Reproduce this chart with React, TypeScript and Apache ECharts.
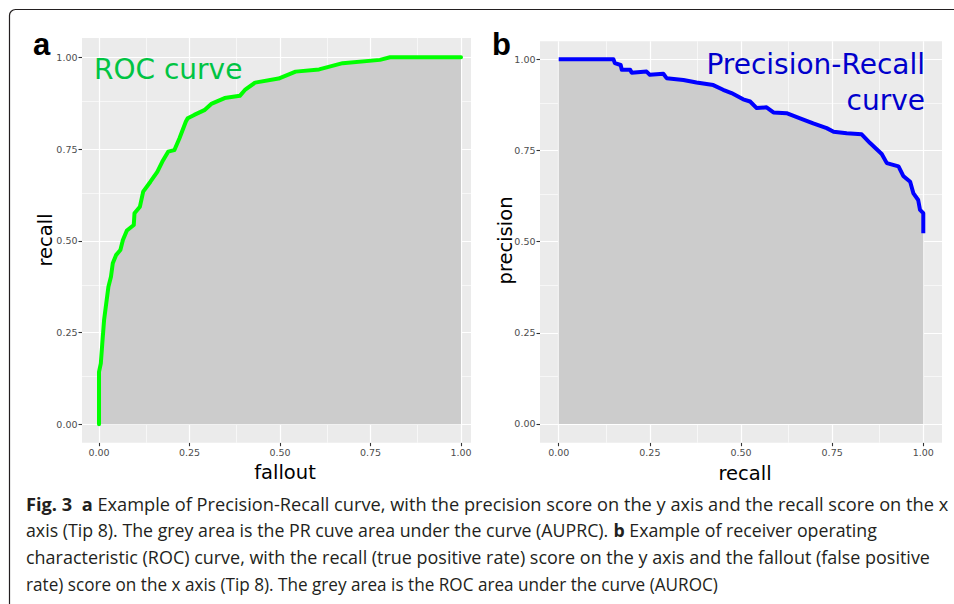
import React, { useEffect, useRef } from "react";
import * as echarts from "echarts";

// ---------- data ----------
const tickValues = [0, 0.25, 0.5, 0.75, 1];
const minorValues = [0.125, 0.375, 0.625, 0.875];
const tickLabels = ["0.00", "0.25", "0.50", "0.75", "1.00"];

// ROC curve (panel a): fallout (x) vs recall (y)
const rocFallout = [
  0, 0, 0.005, 0.009, 0.014, 0.02, 0.026, 0.033, 0.038, 0.047, 0.059, 0.066, 0.077, 0.096,
  0.098, 0.113, 0.122, 0.142, 0.161, 0.175, 0.191, 0.208, 0.222, 0.24, 0.245, 0.263, 0.291,
  0.31, 0.347, 0.389, 0.403, 0.431, 0.496, 0.543, 0.608, 0.673, 0.776, 0.804, 1,
];
const rocRecall = [
  0, 0.143, 0.166, 0.22, 0.284, 0.33, 0.375, 0.402, 0.439, 0.461, 0.475, 0.502, 0.528, 0.543,
  0.575, 0.593, 0.634, 0.661, 0.688, 0.716, 0.743, 0.747, 0.779, 0.825, 0.834, 0.843, 0.856,
  0.873, 0.889, 0.895, 0.911, 0.931, 0.942, 0.961, 0.967, 0.984, 0.993, 1, 1,
];

// Precision-Recall curve (panel b): recall (x) vs precision (y)
const prRecall = [
  0, 0.15, 0.154, 0.17, 0.173, 0.196, 0.2, 0.241, 0.25, 0.287, 0.296, 0.342, 0.378, 0.424,
  0.451, 0.474, 0.506, 0.525, 0.543, 0.57, 0.589, 0.625, 0.662, 0.698, 0.735, 0.754, 0.79,
  0.831, 0.854, 0.886, 0.9, 0.932, 0.945, 0.964, 0.973, 0.986, 0.991, 1, 1,
];
const prPrecision = [
  1, 1, 0.989, 0.984, 0.971, 0.971, 0.963, 0.966, 0.957, 0.96, 0.948, 0.943, 0.936, 0.929,
  0.916, 0.907, 0.89, 0.884, 0.866, 0.868, 0.854, 0.852, 0.838, 0.824, 0.811, 0.801, 0.797,
  0.794, 0.77, 0.74, 0.715, 0.706, 0.68, 0.664, 0.632, 0.614, 0.587, 0.578, 0.523,
];

const captionLines: [string, boolean][][] = [
  [
    ["Fig. 3", true],
    ["  ", false],
    ["a", true],
    [" Example of Precision-Recall curve, with the precision score on the y axis and the recall score on the x", false],
  ],
  [
    ["axis (Tip 8). The grey area is the PR cuve area under the curve (AUPRC). ", false],
    ["b", true],
    [" Example of receiver operating", false],
  ],
  [["characteristic (ROC) curve, with the recall (true positive rate) score on the y axis and the fallout (false positive", false]],
  [["rate) score on the x axis (Tip 8). The grey area is the ROC area under the curve (AUROC)", false]],
];
// target right edges of lines (null: use the mean compression of the other lines)
const captionWidths: (number | null)[] = [922, null, 905, 692];

// ---------- styles ----------
const TITLE_FONT = "DejaVu Sans";
const CAP_FONT = "Open Sans";
const CAP_FS = 18.5;
const CAP_COLOR = "#231F20";

function fmt(v: number) {
  const i = tickValues.indexOf(v);
  return i >= 0 ? tickLabels[i] : v.toFixed(2);
}

function makeAxis(gridIndex: number, min: number, max: number, isX: boolean) {
  return {
    type: "value",
    gridIndex,
    min,
    max,
    axisLine: { show: true, onZero: false, lineStyle: { opacity: 0 } },
    axisTick: {
      show: true,
      inside: false,
      customValues: tickValues,
      length: 3.5,
      lineStyle: { color: "#333333", width: 1.1 },
    },
    axisLabel: {
      show: true,
      customValues: tickValues,
      formatter: (v: number) => fmt(v),
      fontSize: 9.5,
      fontFamily: TITLE_FONT,
      color: "#4D4D4D",
      margin: isX ? 5 : 4.5,
    },
    splitLine: { show: false },
    minorSplitLine: { show: false },
  };
}

function gridLineSeries(idx: number) {
  const major = { color: "#FFFFFF", width: 1.2, type: "solid" };
  const minor = { color: "#FFFFFF", width: 0.6, type: "solid" };
  return {
    type: "line",
    xAxisIndex: idx,
    yAxisIndex: idx,
    data: [[0, 0]],
    symbol: "none",
    showSymbol: false,
    silent: true,
    z: 1,
    lineStyle: { opacity: 0, width: 0 },
    markLine: {
      silent: true,
      z: 1,
      symbol: ["none", "none"],
      label: { show: false },
      emphasis: { disabled: true },
      data: [
        ...minorValues.map((v) => ({ xAxis: v, lineStyle: minor })),
        ...minorValues.map((v) => ({ yAxis: v, lineStyle: minor })),
        ...tickValues.map((v) => ({ xAxis: v, lineStyle: major })),
        ...tickValues.map((v) => ({ yAxis: v, lineStyle: major })),
      ],
    },
  };
}

export default function App() {
  const ref = useRef<HTMLDivElement>(null);

  useEffect(() => {
    if (!ref.current) return;
    const chart = echarts.init(ref.current, undefined, { renderer: "svg" });

    const ctx = document.createElement("canvas").getContext("2d")!;
    const width = (t: string, b: boolean) => {
      ctx.font = `${b ? "bold " : ""}${CAP_FS}px "${CAP_FONT}"`;
      return ctx.measureText(t).width;
    };

    const naturals = captionLines.map((segs) => segs.reduce((s, [t, b]) => s + width(t, b), 0));
    const known = captionWidths
      .map((w, i) => (w != null && naturals[i] > 0 ? w / naturals[i] : null))
      .filter((v) => v != null) as number[];
    const meanSx = known.length ? known.reduce((a, b) => a + b, 0) / known.length : 1;

    const captionBaselines = [510.7, 537.3, 563.9, 590.5];
    const captionEls: any[] = [];
    captionLines.forEach((segs, i) => {
      const tw = captionWidths[i];
      const sx = tw != null && naturals[i] > 0 ? tw / naturals[i] : meanSx;
      let offset = 0;
      for (const [t, b] of segs) {
        const lead = t.length - t.replace(/^\s+/, "").length;
        const trimmed = t.trim();
        const leadW = lead > 0 ? width(t.slice(0, lead), b) : 0;
        if (trimmed.length > 0) {
          captionEls.push({
            type: "text",
            x: 26 + (offset + leadW) * sx,
            y: captionBaselines[i] - 0.388 * CAP_FS,
            scaleX: sx,
            silent: true,
            style: {
              text: trimmed,
              fontSize: CAP_FS,
              fontFamily: CAP_FONT,
              fontWeight: b ? "bold" : "normal",
              fill: CAP_COLOR,
              align: "left",
              verticalAlign: "middle",
            },
          });
        }
        offset += width(t, b);
      }
    });

    const option: any = {
      animation: false,
      backgroundColor: "#FFFFFF",
      grid: [
        {
          left: 82,
          top: 38,
          width: 389,
          height: 404.7,
          show: true,
          backgroundColor: "#EBEBEB",
          borderWidth: 0,
          containLabel: false,
        },
        {
          left: 540,
          top: 41.3,
          width: 402,
          height: 401.4,
          show: true,
          backgroundColor: "#EBEBEB",
          borderWidth: 0,
          containLabel: false,
        },
      ],
      xAxis: [makeAxis(0, -0.047, 1.0276, true), makeAxis(1, -0.0513, 1.0513, true)],
      yAxis: [makeAxis(0, -0.05, 1.0526, false), makeAxis(1, -0.0513, 1.049, false)],
      series: [
        gridLineSeries(0),
        gridLineSeries(1),
        {
          type: "line",
          name: "ROC",
          xAxisIndex: 0,
          yAxisIndex: 0,
          data: rocFallout.map((x, i) => [x, rocRecall[i]]),
          symbol: "none",
          showSymbol: false,
          z: 3,
          lineStyle: { color: "#00FF00", width: 4, cap: "round", join: "round" },
          areaStyle: { color: "#CCCCCC", opacity: 1 },
          emphasis: { disabled: true },
        },
        {
          type: "line",
          name: "PR",
          xAxisIndex: 1,
          yAxisIndex: 1,
          data: prRecall.map((x, i) => [x, prPrecision[i]]),
          symbol: "none",
          showSymbol: false,
          z: 3,
          lineStyle: { color: "#0000FF", width: 4, cap: "butt", join: "round" },
          areaStyle: { color: "#CCCCCC", opacity: 1 },
          emphasis: { disabled: true },
        },
      ],
      graphic: [
        {
          type: "rect",
          silent: true,
          shape: { x: 9.5, y: 9.5, width: 1000, height: 700, r: 6 },
          style: { fill: "none", stroke: "#231F20", lineWidth: 1.2 },
        },
        {
          type: "text",
          x: 33,
          y: 44.3,
          style: { text: "a", fontSize: 31, fontWeight: "bold", fontFamily: "Liberation Sans", fill: "#000", align: "left", verticalAlign: "middle" },
        },
        {
          type: "text",
          x: 492,
          y: 44.3,
          style: { text: "b", fontSize: 31, fontWeight: "bold", fontFamily: "Liberation Sans", fill: "#000", align: "left", verticalAlign: "middle" },
        },
        {
          type: "text",
          x: 94,
          y: 69.3,
          z: 10,
          style: { text: "ROC curve", fontSize: 28, fontFamily: TITLE_FONT, fill: "#00C443", align: "left", verticalAlign: "middle" },
        },
        {
          type: "text",
          x: 925,
          y: 64.3,
          z: 10,
          style: { text: "Precision-Recall", fontSize: 28, fontFamily: TITLE_FONT, fill: "#0000CC", align: "right", verticalAlign: "middle" },
        },
        {
          type: "text",
          x: 925,
          y: 100.3,
          z: 10,
          style: { text: "curve", fontSize: 28, fontFamily: TITLE_FONT, fill: "#0000CC", align: "right", verticalAlign: "middle" },
        },
        {
          type: "text",
          x: 285,
          y: 472.5,
          style: { text: "fallout", fontSize: 19.5, fontFamily: TITLE_FONT, fill: "#000", align: "center", verticalAlign: "middle" },
        },
        {
          type: "text",
          x: 745,
          y: 473,
          style: { text: "recall", fontSize: 19.5, fontFamily: TITLE_FONT, fill: "#000", align: "center", verticalAlign: "middle" },
        },
        {
          type: "text",
          x: 45,
          y: 240,
          rotation: Math.PI / 2,
          style: { text: "recall", fontSize: 19.5, fontFamily: TITLE_FONT, fill: "#000", align: "center", verticalAlign: "middle" },
        },
        {
          type: "text",
          x: 505,
          y: 240.5,
          rotation: Math.PI / 2,
          style: { text: "precision", fontSize: 19.5, fontFamily: TITLE_FONT, fill: "#000", align: "center", verticalAlign: "middle" },
        },
        ...captionEls,
      ],
    };

    chart.setOption(option);
    return () => chart.dispose();
  }, []);

  return (
    <div
      ref={ref}
      style={{ position: "fixed", left: 0, top: 0, width: 954, height: 604, background: "#fff" }}
    />
  );
}
